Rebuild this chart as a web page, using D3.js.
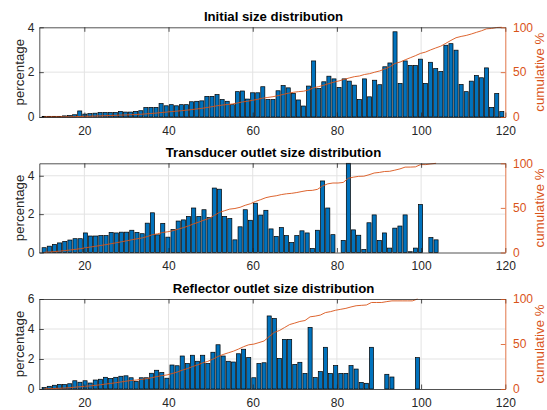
<!DOCTYPE html>
<html>
<head>
<meta charset="utf-8">
<script src="https://cdn.jsdelivr.net/npm/d3@7/dist/d3.min.js"></script>
<style>
  body { margin: 0; background: #fff; }
  svg { display: block; }
  text { font-family: "Liberation Sans", Arial, Helvetica, sans-serif; }
</style>
</head>
<body>
<svg id="fig" width="547" height="410"></svg>
<script>
// ---- data -------------------------------------------------------------
const xTicks = [20, 40, 60, 80, 100, 120];
const cumTicks = [0, 50, 100];
const sizeStart = 10.45;           // centre of the first size class

// percentage of particles in each size class
const initialPct = [
  0.03, 0.03, 0.03, 0.03, 0.05, 0.07, 0.1, 0.27, 0.13, 0.15,
  0.17, 0.2, 0.2, 0.2, 0.2, 0.25, 0.22, 0.22, 0.25, 0.28,
  0.42, 0.43, 0.43, 0.6, 0.5, 0.55, 0.5, 0.55, 0.55, 0.68,
  0.7, 0.72, 0.92, 0.92, 1.0, 0.78, 0.7, 0.55, 1.13, 1.16,
  0.8, 1.08, 1.08, 1.35, 0.78, 0.78, 1.17, 1.4, 1.3, 1.05,
  0.76, 0.49, 1.38, 2.5, 1.27, 1.57, 1.82, 1.7, 1.32, 1.7,
  1.6, 1.42, 0.78, 1.7, 0.9, 1.64, 1.44, 2.24, 2.41, 3.8,
  1.5, 2.5, 2.3, 2.3, 2.58, 1.5, 2.44, 2.16, 2.03, 3.2,
  3.27, 2.98, 1.45, 1.13, 1.6, 1.85, 1.75, 2.19, 0.43, 1.05, 0.24
];
const transducerPct = [
  0.25, 0.33, 0.42, 0.5, 0.58, 0.65, 0.72, 0.72, 1.02, 0.86,
  0.86, 0.88, 0.88, 1.05, 1.02, 1.06, 1.06, 1.16, 1.05, 0.98,
  1.53, 2.07, 0.92, 1.52, 0.8, 1.2, 1.64, 1.7, 1.88, 2.32,
  1.88, 2.23, 1.82, 3.36, 3.3, 1.88, 1.77, 0.66, 1.34, 2.23,
  1.68, 2.57, 1.95, 2.2, 1.23, 0.84, 1.3, 0.88, 0.52, 0.88,
  1.13, 1.02, 0.21, 1.16, 3.73, 2.32, 0.93, 0, 0.63, 4.65,
  1.18, 0.9, 0.16, 1.55, 1.96, 0.63, 1.02, 0.23, 1.27, 1.38,
  1.96, 0.04, 0.23, 2.5, 0, 0.78, 0.66
];
const reflectorPct = [
  0.1, 0.18, 0.25, 0.3, 0.3, 0.35, 0.55, 0.45, 0.55, 0.4,
  0.6, 0.65, 0.78, 0.7, 0.78, 0.85, 0.88, 0.75, 0.5, 0.75,
  0.75, 1.05, 1.25, 1.1, 0.72, 1.6, 1.55, 2.2, 1.7, 2.25,
  1.85, 2.25, 1.7, 2.45, 2.95, 2.2, 1.85, 1.8, 2.35, 2.65,
  2.1, 0.75, 1.7, 1.75, 4.87, 4.7, 2.04, 3.31, 3.31, 1.64,
  1.78, 1.04, 4.11, 0.76, 1.16, 2.78, 1.04, 1.56, 1.04, 1.04,
  1.56, 1.33, 0.44, 0.38, 2.78, 0, 0, 0.98, 0.8, 0,
  0, 0, 0, 2.09
];

// ---- layout -----------------------------------------------------------
const panels = [
  { title: "Initial size distribution", values: initialPct, step: 1.208,
    yMax: 4, yTicks: [0, 2, 4], top: 27.3, bottom: 117 },
  { title: "Transducer outlet size distribution", values: transducerPct, step: 1.225,
    yMax: 4.65, yTicks: [0, 2, 4], top: 163.3, bottom: 252.5 },
  { title: "Reflector outlet size distribution", values: reflectorPct, step: 1.215,
    yMax: 6, yTicks: [0, 2, 4, 6], top: 299, bottom: 389 }
];

const left = 39.3, right = 505.3;
const axisColor = "#262626";
const barColor = "#0072BD";
const cumColor = "#D95319";
const gridColor = "#e3e3e3";
const fmt = d3.format("~g");

const svg = d3.select("#fig");
const x = d3.scaleLinear().domain([9.3, 120]).range([left, right]);

panels.forEach((p, k) => {
  const g = svg.append("g").attr("class", "panel-" + k);
  const y = d3.scaleLinear().domain([0, p.yMax]).range([p.bottom, p.top]);
  const yCum = d3.scaleLinear().domain([0, 100]).range([p.bottom, p.top]);

  const bins = p.values.map((v, i) => ({ size: sizeStart + i * p.step, pct: v }));
  const total = d3.sum(p.values);
  let run = 0;
  bins.forEach(b => { run += b.pct; b.cum = run / total * 100; });

  // grid
  g.append("g").selectAll("line")
    .data(xTicks.filter(t => t < 120))
    .join("line")
    .attr("x1", d => x(d)).attr("x2", d => x(d))
    .attr("y1", p.top).attr("y2", p.bottom)
    .attr("stroke", gridColor).attr("stroke-width", 1);
  g.append("g").selectAll("line")
    .data(p.yTicks.filter(t => t > 0 && y(t) > p.top + 1))
    .join("line")
    .attr("x1", left).attr("x2", right)
    .attr("y1", d => y(d)).attr("y2", d => y(d))
    .attr("stroke", gridColor).attr("stroke-width", 1);

  // bars
  const bw = (x(p.step) - x(0)) * 0.8;
  g.append("g").selectAll("rect")
    .data(bins.filter(b => b.pct > 0))
    .join("rect")
    .attr("x", d => x(d.size) - bw / 2)
    .attr("width", bw)
    .attr("y", d => y(d.pct))
    .attr("height", d => p.bottom - y(d.pct))
    .attr("fill", barColor)
    .attr("stroke", "#000")
    .attr("stroke-width", 0.7);

  // cumulative curve
  g.append("path")
    .datum(bins)
    .attr("fill", "none")
    .attr("stroke", cumColor)
    .attr("stroke-width", 0.9)
    .attr("d", d3.line().x(d => x(d.size)).y(d => yCum(d.cum)));

  // axes
  const styleAxis = (sel, color) => {
    sel.selectAll("path").attr("stroke", color).attr("stroke-width", 0.8);
    sel.selectAll("line").attr("stroke", color).attr("stroke-width", 0.8);
    sel.selectAll("text").attr("fill", color).style("font-size", "12px")
      .style("font-family", '"Liberation Sans", Arial, sans-serif');
  };

  g.append("g").attr("transform", `translate(0,${p.bottom})`)
    .call(d3.axisBottom(x).tickValues(xTicks).tickFormat(fmt)
      .tickSizeInner(-4.5).tickSizeOuter(0).tickPadding(9.2))
    .call(s => styleAxis(s, axisColor));
  g.append("g").attr("transform", `translate(0,${p.top})`)
    .call(d3.axisTop(x).tickValues(xTicks).tickSizeInner(-4.5).tickSizeOuter(0).tickFormat(""))
    .call(s => styleAxis(s, axisColor));
  g.append("g").attr("transform", `translate(${left},0)`)
    .call(d3.axisLeft(y).tickValues(p.yTicks).tickFormat(fmt)
      .tickSizeInner(-4.5).tickSizeOuter(0).tickPadding(4.8))
    .call(s => styleAxis(s, axisColor));
  g.append("g").attr("transform", `translate(${right},0)`)
    .call(d3.axisRight(yCum).tickValues(cumTicks).tickFormat(fmt)
      .tickSizeInner(-4.5).tickSizeOuter(0).tickPadding(7.7))
    .call(s => styleAxis(s, cumColor));

  // labels
  const cy = (p.top + p.bottom) / 2;
  g.append("text")
    .attr("transform", `translate(23.5,${cy}) rotate(-90)`)
    .attr("text-anchor", "middle")
    .attr("fill", axisColor)
    .style("font-size", "13.3px")
    .text("percentage");
  g.append("text")
    .attr("transform", `translate(543.5,${cy}) rotate(-90)`)
    .attr("text-anchor", "middle")
    .attr("fill", cumColor)
    .style("font-size", "13.3px")
    .text("cumulative %");
  g.append("text")
    .attr("x", 273.5)
    .attr("y", p.top - 6.5)
    .attr("text-anchor", "middle")
    .attr("fill", "#000")
    .style("font-size", "13.2px")
    .style("font-weight", "bold")
    .text(p.title);
});
</script>
</body>
</html>
